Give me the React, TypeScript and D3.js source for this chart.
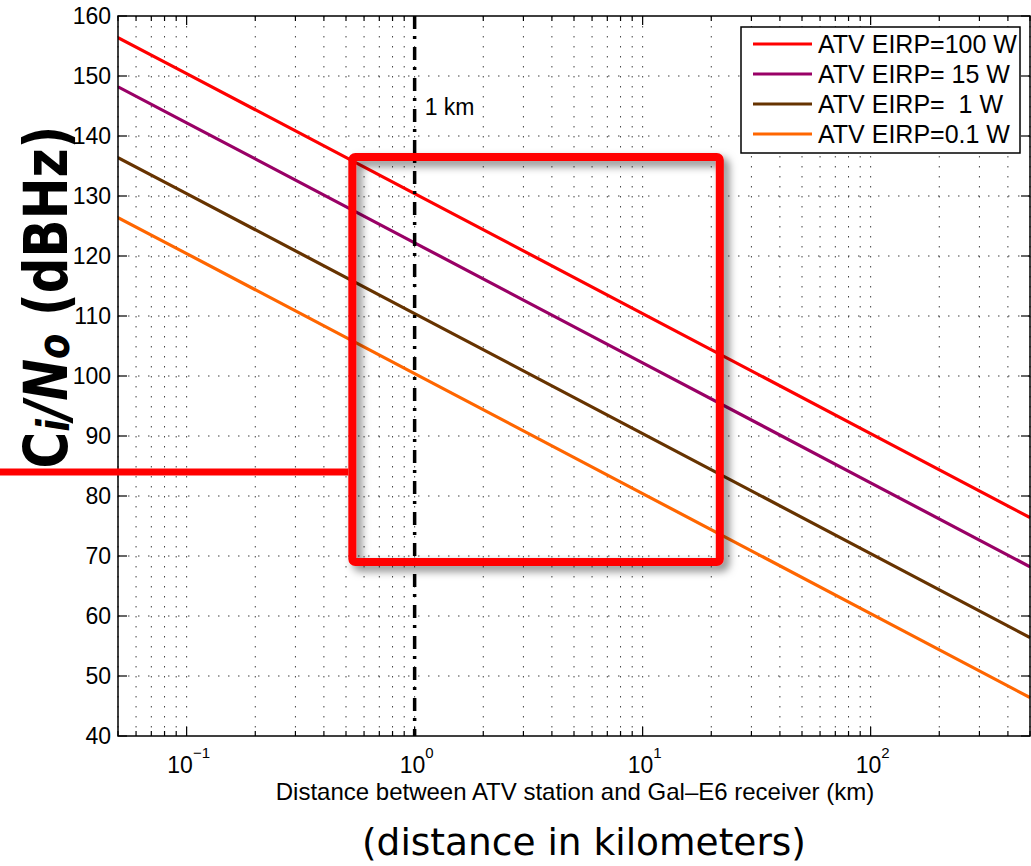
import React from "react";
import * as d3 from "d3";

const distancesKm = [0.05, 0.1, 1, 10, 100, 500];
const seriesNames = ["ATV EIRP=100 W", "ATV EIRP= 15 W", "ATV EIRP=  1 W", "ATV EIRP=0.1 W"];
const seriesColors = ["#ff0000", "#990066", "#663300", "#ff6600"];
const eirp100W = [156.4, 150.4, 130.4, 110.4, 90.4, 76.4];
const eirp15W = [148.2, 142.2, 122.2, 102.2, 82.2, 68.2];
const eirp1W = [136.4, 130.4, 110.4, 90.4, 70.4, 56.4];
const eirp01W = [126.4, 120.4, 100.4, 80.4, 60.4, 46.4];
const seriesValues = [eirp100W, eirp15W, eirp1W, eirp01W];

const yTicks = [40, 50, 60, 70, 80, 90, 100, 110, 120, 130, 140, 150, 160];
const xMajorTicks = [0.1, 1, 10, 100];
const xMajorExponents = ["−1", "0", "1", "2"];
const xDomain = [0.05, 500];
const yDomain = [40, 160];

const markerDistanceKm = 1;
const markerLabel = "1 km";
const boxDistanceKm = [0.533, 21.8];
const boxCn0 = [69, 136.5];
const thresholdCn0 = 84;

const xLabel = "Distance between ATV station and Gal\u2013E6 receiver (km)";
const bottomNote = "(distance in kilometers)";

export default function App() {
  const W = 1031, H = 866;
  const L = 118, R = 1030, T = 16, B = 736;
  const x = d3.scaleLog().domain(xDomain).range([L, R]);
  const y = d3.scaleLinear().domain(yDomain).range([B, T]);

  const minorX: number[] = [];
  for (let e = -2; e <= 2; e++) {
    for (let m = 1; m <= 9; m++) {
      const v = m * Math.pow(10, e);
      if (v >= xDomain[0] - 1e-9 && v <= xDomain[1] + 1e-9) minorX.push(v);
    }
  }
  const isMajor = (v: number) => xMajorTicks.some((t) => Math.abs(t - v) / t < 1e-6);

  const line = d3
    .line<number>()
    .x((_, i) => x(distancesKm[i]))
    .y((d) => y(d));

  const tickFont = "'Liberation Sans', Arial, Helvetica, sans-serif";

  const bx0 = x(boxDistanceKm[0]);
  const bx1 = x(boxDistanceKm[1]);
  const by0 = y(boxCn0[1]);
  const by1 = y(boxCn0[0]);

  return (
    <svg
      width={W}
      height={H}
      style={{ position: "absolute", left: 0, top: 0, background: "#fff" }}
    >
      <defs>
        <filter id="shadow" x="-10%" y="-10%" width="130%" height="130%">
          <feDropShadow dx="5" dy="5" stdDeviation="4" floodColor="#000" floodOpacity="0.5" />
        </filter>
        <clipPath id="plotclip">
          <rect x={L} y={T} width={R - L} height={B - T} />
        </clipPath>
      </defs>
      <rect x={0} y={0} width={W} height={H} fill="#fff" />
      {/* grid */}
      <g stroke="#000" strokeWidth={1} strokeDasharray="1.5,8.5" opacity={0.75}>
        {minorX.map((v, i) => (
          <line key={"gx" + i} x1={x(v)} x2={x(v)} y1={T} y2={B} />
        ))}
        {yTicks.slice(1, -1).map((v, i) => (
          <line key={"gy" + i} x1={L} x2={R} y1={y(v)} y2={y(v)} />
        ))}
      </g>
      {/* series */}
      <g clipPath="url(#plotclip)" fill="none" strokeWidth={3.2}>
        {seriesValues.map((vals, i) => (
          <path key={"s" + i} d={line(vals) || ""} stroke={seriesColors[i]} />
        ))}
      </g>
      {/* 1 km marker */}
      <line
        x1={x(markerDistanceKm)}
        x2={x(markerDistanceKm)}
        y1={T}
        y2={B}
        stroke="#000"
        strokeWidth={3.5}
        strokeDasharray="13,7,3,8"
      />
      <text x={x(markerDistanceKm) + 10} y={115} fontFamily={tickFont} fontSize={23} fill="#000">
        {markerLabel}
      </text>
      {/* axes frame and ticks */}
      <rect x={L} y={T} width={R - L} height={B - T} fill="none" stroke="#000" strokeWidth={1.5} />
      <g stroke="#000" strokeWidth={1.2}>
        {yTicks.map((v, i) => (
          <g key={"yt" + i}>
            <line x1={L} x2={L + 9} y1={y(v)} y2={y(v)} />
            <line x1={R} x2={R - 9} y1={y(v)} y2={y(v)} />
          </g>
        ))}
        {minorX.map((v, i) => {
          const len = isMajor(v) ? 9 : 5;
          return (
            <g key={"xt" + i}>
              <line x1={x(v)} x2={x(v)} y1={B} y2={B - len} />
              <line x1={x(v)} x2={x(v)} y1={T} y2={T + len} />
            </g>
          );
        })}
      </g>
      <g fontFamily={tickFont} fontSize={23} fill="#000">
        {yTicks.map((v, i) => (
          <text key={"yl" + i} x={L - 7} y={y(v) + 8} textAnchor="end">
            {v}
          </text>
        ))}
        {xMajorTicks.map((v, i) => (
          <text key={"xl" + i} x={x(v) + 2} y={773} textAnchor="middle">
            10
            <tspan fontSize={15} dy={-15}>
              {xMajorExponents[i]}
            </tspan>
          </text>
        ))}
        <text x={575} y={800} textAnchor="middle" fontSize={24}>
          {xLabel}
        </text>
      </g>
      {/* legend */}
      <g>
        <rect x={741} y={27} width={279} height={126} fill="#fff" stroke="#000" strokeWidth={1.5} />
        {seriesNames.map((name, i) => {
          const ly = 44 + i * 30;
          return (
            <g key={"lg" + i}>
              <line x1={753} x2={812} y1={ly} y2={ly} stroke={seriesColors[i]} strokeWidth={3.2} />
              <text
                x={818}
                y={ly + 8.5}
                fontFamily={tickFont}
                fontSize={25}
                fill="#000"
                style={{ whiteSpace: "pre" }}
              >
                {name}
              </text>
            </g>
          );
        })}
      </g>
      {/* annotation box */}
      <rect
        x={bx0}
        y={by0}
        width={bx1 - bx0}
        height={by1 - by0}
        rx={3}
        fill="none"
        stroke="#ff0000"
        strokeWidth={8}
        filter="url(#shadow)"
      />
      {/* y label */}
      <g transform={`translate(67, 297) rotate(-90) scale(1, 1.22)`}>
        <text
          x={0}
          y={0}
          textAnchor="middle"
          fontFamily="'DejaVu Sans', Verdana, sans-serif"
          fontWeight="bold"
          fontSize={50}
          fill="#000"
          style={{ whiteSpace: "pre" }}
        >
          <tspan>C</tspan>
          <tspan fontStyle="italic" fontSize={37} dy={2}>i</tspan>
          <tspan fontStyle="italic" dy={-2}>/N</tspan>
          <tspan fontStyle="italic" fontSize={37} dy={2}>o</tspan>
          <tspan dy={-2}> (dBHz)</tspan>
        </text>
      </g>
      {/* threshold line */}
      <line x1={0} x2={bx0 - 4} y1={y(thresholdCn0)} y2={y(thresholdCn0)} stroke="#ff0000" strokeWidth={7} />
      {/* bottom note */}
      <text
        x={584}
        y={855}
        textAnchor="middle"
        fontFamily="'DejaVu Sans', Verdana, sans-serif"
        fontSize={37.5}
        fill="#000"
      >
        {bottomNote}
      </text>
    </svg>
  );
}
